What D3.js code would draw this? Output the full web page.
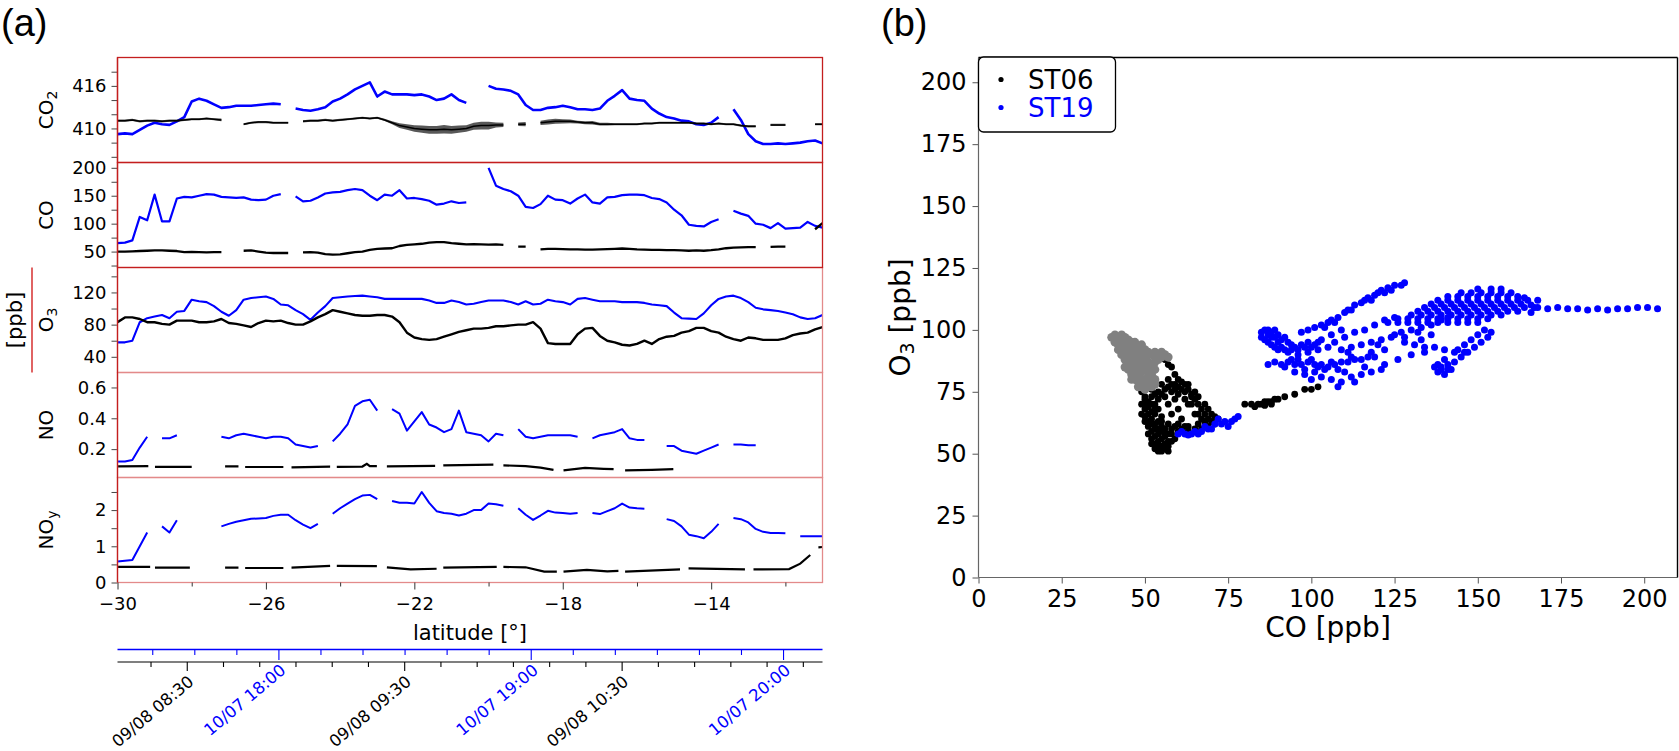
<!DOCTYPE html>
<html><head><meta charset="utf-8">
<script src="https://cdn.jsdelivr.net/npm/d3@7"></script>
<style>body{margin:0;background:#fff;} svg{display:block;}</style>
</head><body>
<svg id="chart" width="1679" height="751"></svg>
<script>
// ---------------- DATA ----------------
// latitude sampling grid: -30 .. -11 in 0.2 degree steps (96 samples)
const latStart = -30, latStep = 0.2, latDomain = [-30, -11];
const latMajorTicks = [-30, -26, -22, -18, -14];
const latMinorTicks = [-28, -24, -20, -16, -12];

const co2Blue = [409.2,409.3,409.2,409.8,410.4,410.8,410.6,410.5,411.0,411.6,
 413.8,414.2,413.9,413.4,412.9,413.0,413.2,413.2,413.2,413.3,
 413.4,413.5,413.4,null,412.8,412.6,412.5,412.7,413.0,413.8,
 414.2,414.8,415.5,416.0,416.5,414.5,415.2,414.8,414.8,414.8,
 414.7,414.8,414.5,414.0,414.2,414.8,414.0,413.6,null,null,
 416.0,415.6,415.5,415.3,414.8,413.3,412.6,412.6,412.9,413.0,
 413.2,413.0,412.7,412.7,412.6,412.8,413.9,414.6,415.4,414.2,
 414.0,413.9,412.8,412.1,411.6,411.4,411.1,411.0,410.6,410.5,
 410.8,411.6,null,412.7,411.2,409.2,408.2,407.8,407.8,407.9,
 407.8,407.9,408.0,408.2,408.3,407.9];
const co2Black = [411.1,411.1,411.2,411.0,411.1,411.1,411.0,411.1,411.1,411.2,
 411.3,411.3,411.4,411.3,411.2,null,null,410.6,410.8,410.9,
 410.9,410.8,410.8,410.8,null,411.0,411.1,411.1,411.2,411.1,
 411.2,411.3,411.4,411.5,411.4,411.5,411.2,410.8,410.4,410.2,
 410.0,409.9,409.8,409.8,409.9,409.8,409.9,410.0,410.3,410.4,
 410.4,410.5,410.5,null,410.6,410.6,null,410.8,410.9,411.0,
 411.0,411.0,410.9,410.8,410.8,410.6,410.6,410.6,410.6,410.6,
 410.6,410.7,410.7,410.8,410.8,410.8,410.8,410.8,410.7,410.7,
 410.6,410.7,410.6,410.6,410.4,410.3,410.3,null,410.5,410.5,
 410.5,null,410.5,null,410.6,410.6];
// half-width of the noisy black CO2 trace (ppm)
const co2BlackSpread = [0.15,0.15,0.15,0.15,0.15,0.15,0.15,0.15,0.15,0.15,
 0.15,0.15,0.15,0.15,0.2,0,0,0.15,0.15,0.15,
 0.15,0.15,0.15,0.15,0,0.15,0.15,0.15,0.15,0.15,
 0.15,0.15,0.15,0.15,0.15,0.15,0.15,0.2,0.35,0.4,
 0.45,0.5,0.55,0.55,0.6,0.55,0.5,0.45,0.5,0.55,
 0.55,0.35,0.3,0,0.25,0.3,0,0.3,0.35,0.35,
 0.3,0.25,0.2,0.2,0.25,0.2,0.2,0.15,0.15,0.15,
 0.15,0.15,0.15,0.15,0.15,0.15,0.15,0.15,0.15,0.15,
 0.15,0.15,0.15,0.15,0.15,0.15,0.15,0,0.15,0.15,
 0.15,0,0.15,0,0.15,0.15];
const coBlue = [65,66,70,112,106,152,104,104,145,148,
 147,150,153,152,148,147,146,147,143,142,
 143,150,153,null,149,140,141,147,154,156,
 157,160,162,160,150,142,152,150,160,145,
 146,144,141,134,136,140,137,138,null,null,
 200,168,162,158,150,130,128,135,150,143,
 142,136,145,152,138,136,147,148,151,152,
 152,151,146,144,138,125,115,98,96,95,
 103,108,null,123,118,114,100,98,92,101,
 91,92,93,103,96,93];
const coBlack = [50,50,50.5,51,51.5,52,52,51.5,51,49,
 49.5,49,48.5,49,49,null,null,51.5,52,50,
 48,47.5,47.5,47.5,null,48.5,49,48,45.5,44.5,
 45,47,49,50,53,55,55.5,56,60,62,
 63,64,66,67,67,65,64,63,63.5,63,
 62.5,63,62,null,59,59,null,54,55,55,
 54.5,54,54,53.5,53.5,54,54.5,55,55.5,55,
 54,53.5,53,53,52.5,52.5,52,51.5,52,51.5,
 52.5,54,56,57,57.5,58,58,null,58.5,59,
 59,null,68,null,90,101];
const o3Blue = [58,58,60,83,88,90,92,88,96,97,
 111,109,108,103,96,91,98,111,113,114,
 115,112,105,104,98,93,86,95,103,113,
 114,115,115.5,116,115,114,112,112,112,112,
 112,112,110,107,107,110,108,105,106,108,
 110,110,110,108,105,109,105,106,111,109,
 108,105,112,113,111,109,109,109,108,108,
 108,107,105,104,103,95,88,87.5,87,94,
 104,112,115,116,113,108,101,99,98,97,
 95,93,89,87,88,92];
const o3Black = [83,89,89,87,83,83,81,80,85,85,
 85,83,83,84,87,82,81,79,77,82,
 85,84,85,82,80,80,84,89,93,98,
 96,94,92,91,91,92,92,90,83,70,
 64,62,61,62,65,68,71,73,75,75,
 76,78,78,79,80,80,83,75,57,56,
 56,56,68,75,76,66,60,58,55,54,
 56,60,56,62,65,66,70,72,76,76,
 72,70,65,62,60,64,63,61,61,61,
 63,67,69,70,74,77];
const noBlue = [0.12,0.12,0.13,0.21,0.28,null,0.27,0.27,0.29,null,
 null,null,null,null,0.28,0.27,0.29,0.30,0.29,0.28,
 0.27,0.28,0.28,0.27,0.23,0.22,0.21,0.22,null,0.25,
 0.30,0.36,0.48,0.51,0.52,0.45,null,0.46,0.43,0.32,
 0.38,0.44,0.36,0.34,0.31,0.33,0.45,0.31,0.30,0.29,
 0.25,0.30,0.29,null,0.33,0.28,0.27,0.28,0.29,0.29,
 0.29,0.29,0.28,null,0.27,0.29,0.30,0.31,0.33,0.27,
 0.26,0.26,null,null,0.22,0.22,0.19,0.18,0.17,0.19,
 0.21,0.23,null,0.23,0.23,0.225,0.225,null,null,null,
 null,null,null,null,null,null];
const noyBlue = [0.58,0.60,0.62,1.00,1.38,null,1.55,1.38,1.72,null,
 null,null,null,null,1.55,1.62,1.68,1.72,1.76,1.77,
 1.78,1.84,1.87,1.87,1.72,1.60,1.50,1.62,null,1.90,
 2.05,2.18,2.30,2.40,2.42,2.30,null,2.25,2.20,2.20,
 2.18,2.50,2.20,1.97,1.92,1.90,1.85,1.90,2.00,2.00,
 2.18,2.16,2.12,null,2.05,1.87,1.73,1.85,1.98,1.93,
 1.92,1.90,1.92,null,1.92,1.89,1.97,2.05,2.18,2.07,
 2.05,2.04,null,null,1.75,1.70,1.55,1.32,1.28,1.22,
 1.40,1.62,null,1.78,1.75,1.66,1.48,1.40,1.37,1.37,
 1.36,null,1.28,1.28,1.28,1.28];
// ST06 NO and NOy were measured in short pieces: [latitude, value] per piece
const noBlackSegs = [
 [[-30.0,0.088],[-29.17,0.090]],
 [[-28.99,0.085],[-28.0,0.085]],
 [[-27.10,0.088],[-26.74,0.088]],
 [[-26.56,0.084],[-25.53,0.084]],
 [[-25.31,0.082],[-24.27,0.086]],
 [[-24.09,0.085],[-23.4,0.087],[-23.28,0.105],[-23.2,0.09],[-23.01,0.09]],
 [[-22.74,0.088],[-21.44,0.092]],
 [[-21.22,0.095],[-19.87,0.10]],
 [[-19.60,0.095],[-19.0,0.09],[-18.6,0.08],[-18.25,0.065]],
 [[-17.98,0.062],[-17.4,0.078],[-16.9,0.072],[-16.63,0.07]],
 [[-16.32,0.062],[-15.6,0.066],[-15.02,0.07]]
];
const noyBlackSegs = [
 [[-30.0,0.43],[-29.12,0.43]],
 [[-28.99,0.41],[-28.05,0.41]],
 [[-27.10,0.41],[-26.74,0.41]],
 [[-26.56,0.40],[-25.53,0.40]],
 [[-25.31,0.41],[-24.27,0.46]],
 [[-24.09,0.46],[-23.01,0.45]],
 [[-22.74,0.42],[-22.1,0.36],[-21.4,0.38]],
 [[-21.22,0.41],[-19.78,0.43]],
 [[-19.60,0.43],[-19.0,0.42],[-18.5,0.30],[-18.16,0.30]],
 [[-17.98,0.30],[-17.35,0.35],[-16.8,0.31],[-16.50,0.32]],
 [[-16.32,0.30],[-14.84,0.36]],
 [[-14.61,0.39],[-13.09,0.36]],
 [[-12.86,0.36],[-11.9,0.37],[-11.6,0.52],[-11.33,0.76]],
 [[-11.11,0.97],[-11.0,0.98]]
];

// time axes: flight date, labelled tick times and the latitude each sits at
const st06Date = "09/08", st06TickTimes = ["08:30","09:30","10:30"], st06TickLats = [-28.12,-22.26,-16.40];
const st19Date = "10/07", st19TickTimes = ["18:00","19:00","20:00"], st19TickLats = [-25.65,-18.85,-12.05];

// panel (b): O3 vs CO scatter, [CO, O3]
const scatterTicks = [0,25,50,75,100,125,150,175,200];
const grayPts = [[40,97],[41,98],[42,97],[43,96],[44,97],[45,96],[46,95],[41,95],[42,94],[43,93],[44,94],[45,93],[46,92],[47,93],[48,92],[49,91],[50,92],[51,91],[52,90],[53,91],[54,90],[55,89],[56,90],[57,89],[43,90],[44,88],[45,89],[46,87],[47,89],[48,88],[49,87],[50,89],[51,87],[52,86],[53,87],[44,85],[45,84],[46,85],[47,83],[48,84],[49,83],[50,85],[51,83],[52,82],[47,80],[48,79],[49,80],[50,78],[51,79],[52,77],[53,78],[50,76],[49,77],[42,96],[43,98],[45,91],[47,91],[48,86],[46,82],[53,84],[54,88],[51,81],[53,80],
[44,91],[46,90],[48,90],[50,87],[45,86],[47,86],[49,85],[51,85],[46,80],[48,81],[50,80],[52,79],[48,77],[51,77],[44,95],[47,95],[42,92],[49,94],[53,89],[55,91]];
const blackPts = [[49,75],[50,73],[51,71],[49,70],[50,68],[51,66],[52,64],[50,63],[51,61],[52,59],[53,57],[54,55],[55,53],[56,52],[53,54],[52,56],[54,58],[55,56],[57,55],[56,57],[53,62],[52,67],[53,70],[50,65],[51,58],
[52,76],[54,75],[56,76],[58,75],[60,74],[62,75],[64,73],[55,78],[57,80],[59,82],[58,85],[56,88],[57,86],[59,78],
[60,80],[62,78],[63,76],[64,74],[65,72],[66,70],[67,68],[68,66],[69,64],[70,63],[66,66],[67,64],[64,70],[62,72],[70,66],
[55,61],[57,62],[59,61],[61,60],[63,61],[65,60],[67,60],[69,61],[58,60],[60,62],[62,61],
[58,66],[60,68],[57,70],[61,64],[59,72],[53,52],[55,51],[57,53],[58,55],[56,54],[54,53],
[50,72],[52,73],[54,72],[56,73],[51,69],[53,66],[54,63],[55,59],[53,60],[52,62],[58,58],[56,60],[72,64],[71,62],[54,68],[55,65],[58,78],[60,77],[61,79],[63,78],
[50,70],[52,70],[51,63],[49,66],[53,68],[54,60],[56,58],[57,58],[55,63],[52,54],[54,51],[57,51],[59,56],[60,59],[63,59],[66,62],[68,63],[65,66],[63,70],[61,76],[59,76],[57,77],[55,74],[53,74],[65,75],[66,73],[68,70],[69,68],[71,65],
[80,70],[82,70],[84,70],[85,70],[86,71],[87,71],[88,71],[89,72],[90,72],[92,73],[95,74],[98,76],[100,76],[102,77],[83,69],[86,69.5],[88,70]];
const bluePts = [[60,58],[62,58],[64,58],[65,59],[67,59],[69,60],[70,60],[68,61],[71,62],[73,62],[74,63],[76,63],[77,64],[78,65],[72,64],[75,61],[63,57.5],[66,58],[61,59],
[85,99],[86,100],[87,98],[88,99],[89,97],[90,98],[91,96],[92,97],[93,95],[94,94],[95,93],[86,96],[87,95],[88,94],[89,93],[90,92],[91,93],[92,92],[93,91],[94,92],[96,92],[88,97],[90,95],[85,97],[87,100],[89,100],
[97,94],[99,95],[101,94],[100,93],[98,93],[102,95],
[97,99],[99,100],[101,101],[103,102],[105,103],[106,104],[108,105],[110,107],[111,108],[113,110],[115,111],[117,113],[119,114],[121,116],[123,117],[125,118],[127,118],[128,119],[104,101],[107,103],[112,108],[116,112],[120,115],[124,116],[118,112],[122,115],
[87,86],[89,87],[91,86],[93,87],[95,86],[97,86],[99,87],[101,86],[103,86],[105,85],[107,86],[109,87],[111,87],[113,88],[115,88],[117,89],[94,88],[100,88],[104,84],[98,84],[102,85],[106,87],[92,85],[96,88],[108,84],[119,89],
[100,80],[103,81],[106,80],[109,79],[112,81],[115,82],[118,83],[121,84],[108,77],[113,79],
[109,92],[112,93],[115,94],[118,95],[121,96],[124,97],[127,99],[130,100],[133,101],[136,102],[139,104],[141,105],[111,91],[120,94],[128,97],[125,98],[132,99],
[128,95],[131,94],[134,93],[137,93],[140,92],[143,91],[146,91],
[96,90],[99,91],[102,92],[105,93],[107,95],[110,97],[113,99],[116,100],[119,102],[122,104],[125,105],[103,96],[106,98],[109,100],[95,83],[98,82],[101,83],[110,83],[116,85],[122,86],[126,88],[130,90],[134,91],[118,91],[122,92],[112,89],[133,96],[136,98],
[138,83],[140,82],[142,84],[139,85],[141,86],[143,87],[140,88],[138,86],[145,89],[147,91],[149,93],[151,95],[150,98],[152,100],[148,96],[146,94],[144,92],[153,97],[154,99],[139,84],[141,84],[137,85],
[123,103],[126,103],[129,103],[132,103],[135,103],[138,103],[141,103],[144,103],[147,103],[150,103],
[126,104.5],[129,104.5],[132,104.5],[135,104.5],[138,104.5],[141,104.5],[144,104.5],[147,104.5],[150,104.5],[153,104.5],
[130,106],[133,106],[136,106],[139,106],[142,106],[145,106],[148,106],[151,106],[154,106],[157,106],
[132,107.5],[135,107.5],[138,107.5],[141,107.5],[144,107.5],[147,107.5],[150,107.5],[153,107.5],[156,107.5],[159,107.5],[162,107.5],
[134,109],[137,109],[140,109],[143,109],[146,109],[149,109],[152,109],[155,109],[158,109],[161,109],[164,109],[167,109],
[136,110.5],[139,110.5],[142,110.5],[145,110.5],[148,110.5],[151,110.5],[154,110.5],[157,110.5],[160,110.5],[163,110.5],
[138,112],[141,112],[144,112],[147,112],[150,112],[153,112],[156,112],[159,112],[162,112],[165,112],
[141,113.5],[144,113.5],[147,113.5],[150,113.5],[153,113.5],[156,113.5],[159,113.5],[162,113.5],
[145,115],[148,115],[151,115],[154,115],[157,115],[160,115],[150,116.5],[154,116.5],[157,116.5],
[168,109],[171,108.5],[174,109],[177,108.5],[180,108.5],[183,108],[186,108.5],[189,108],[192,108.5],[195,108.5],[198,109],[201,109],[204,108.5],[166,107],[164,113],[168,112],[166,110]];

// ---------------- DRAWING ----------------
const BLUE = "#0000ff";
const FONT = "DejaVu Sans, sans-serif";
const svg = d3.select("#chart");
svg.append("rect").attr("width",1679).attr("height",751).attr("fill","#fff");

svg.append("text").attr("x",1).attr("y",36).attr("font-family","Liberation Sans, Arial, sans-serif").attr("font-size",38).text("(a)");
svg.append("text").attr("x",881).attr("y",36).attr("font-family","Liberation Sans, Arial, sans-serif").attr("font-size",38).text("(b)");

// ---- panel (a)
const A = {left:117.5, right:822.5, top:57.5, h:105};
const xLat = d3.scaleLinear().domain(latDomain).range([A.left, A.right]);
const lat = co2Blue.map((_, i) => latStart + latStep * i);

const panels = [
 {label:["CO","2"], domain:[405.2,420], ticks:[406,408,410,412,414,416,418], labelTicks:[410,416], fmt:d3.format("d"), blue:co2Blue, black:co2Black, spread:co2BlackSpread, frame:"#c41e1e", bw:1.5, blw:2.6},
 {label:["CO",""], domain:[21.5,209.5], ticks:[25,50,75,100,125,150,175,200], labelTicks:[50,100,150,200], fmt:d3.format("d"), blue:coBlue, black:coBlack, frame:"#c41e1e", bw:2.3, blw:2.2},
 {label:["O","3"], domain:[20.5,151], ticks:[40,60,80,100,120,140], labelTicks:[40,80,120], fmt:d3.format("d"), blue:o3Blue, black:o3Black, frame:"#e38a8a", bw:2.4, blw:2.1},
 {label:["NO",""], domain:[0.016,0.697], ticks:[0.2,0.4,0.6], labelTicks:[0.2,0.4,0.6], fmt:d3.format(".1f"), blue:noBlue, blackSegs:noBlackSegs, frame:"#e38a8a", bw:2.2, blw:2.0},
 {label:["NO","y"], domain:[0,2.9], ticks:[0,0.5,1,1.5,2,2.5], labelTicks:[0,1,2], fmt:d3.format("d"), blue:noyBlue, blackSegs:noyBlackSegs, frame:"#e38a8a", bw:2.2, blw:2.0}
];

const frames = [];
panels.forEach((p, k) => {
  const y0 = A.top + k*A.h, y1 = y0 + A.h;
  const y = d3.scaleLinear().domain(p.domain).range([y1, y0]);
  const cid = "clipA" + k;
  svg.append("clipPath").attr("id", cid).append("rect")
    .attr("x", A.left).attr("y", y0).attr("width", A.right - A.left).attr("height", A.h);
  const g = svg.append("g").attr("clip-path", `url(#${cid})`);
  const line = d3.line().defined(d => d[1] != null).x(d => xLat(d[0])).y(d => y(d[1]));
  g.append("path").datum(lat.map((l, i) => [l, p.blue[i]])).attr("d", line)
    .attr("fill","none").attr("stroke",BLUE).attr("stroke-width", p.blw).attr("stroke-linejoin","round");
  if (p.spread) {
    const area = d3.area().defined((d,i) => p.black[i] != null)
      .x((d,i) => xLat(lat[i])).y0((d,i) => y(p.black[i] - p.spread[i])).y1((d,i) => y(p.black[i] + p.spread[i]));
    g.append("path").datum(p.black).attr("d", area).attr("fill","#111").attr("opacity",0.7);
  }
  if (p.black) {
    g.append("path").datum(lat.map((l, i) => [l, p.black[i]])).attr("d", line)
      .attr("fill","none").attr("stroke","#000").attr("stroke-width", p.bw).attr("stroke-linejoin","round");
  }
  if (p.blackSegs) {
    const sl = d3.line().x(d => xLat(d[0])).y(d => y(d[1]));
    p.blackSegs.forEach(seg => g.append("path").datum(seg).attr("d", sl)
      .attr("fill","none").attr("stroke","#000").attr("stroke-width", p.bw));
  }
  // y axis
  const ax = svg.append("g").attr("transform", `translate(${A.left},0)`)
    .call(d3.axisLeft(y).tickValues(p.ticks).tickSize(6).tickPadding(5)
      .tickFormat(d => p.labelTicks.includes(d) ? p.fmt(d) : ""));
  ax.select(".domain").remove();
  ax.attr("font-size", 18).attr("font-family", FONT);
  ax.selectAll("line").attr("stroke","#444");
  ax.selectAll("text").attr("fill","#000");
  // y label
  const t = svg.append("text").attr("transform", `translate(46,${(y0+y1)/2}) rotate(-90)`)
    .attr("text-anchor","middle").attr("dominant-baseline","central")
    .attr("font-family", FONT).attr("font-size", 20);
  t.append("tspan").text(p.label[0]);
  if (p.label[1]) t.append("tspan").attr("font-size", 14).attr("dy", 6).text(p.label[1]);
  frames.push({y0, color:p.frame});
});
// frames: light ones first, dark on top
frames.slice().reverse().forEach(f => {
  svg.append("rect").attr("x", A.left).attr("y", f.y0).attr("width", A.right - A.left).attr("height", A.h)
    .attr("fill","none").attr("stroke", f.color).attr("stroke-width", 1.3);
});
svg.append("line").attr("x1", A.left).attr("x2", A.left).attr("y1", A.top).attr("y2", A.top + 5*A.h)
  .attr("stroke","#c41e1e").attr("stroke-width",1.3);

// [ppb] common label with red bar
svg.append("text").attr("transform", `translate(15,${A.top + 2.5*A.h}) rotate(-90)`)
  .attr("text-anchor","middle").attr("dominant-baseline","central")
  .attr("font-family", FONT).attr("font-size", 21).text("[ppb]");
svg.append("line").attr("x1",32).attr("x2",32).attr("y1",A.top+2*A.h).attr("y2",A.top+3*A.h)
  .attr("stroke","#d01010").attr("stroke-width",1.3);

// latitude axis
const yBottomA = A.top + 5*A.h;
const xMaj = svg.append("g").attr("transform", `translate(0,${yBottomA})`)
  .call(d3.axisBottom(xLat).tickValues(latMajorTicks).tickSize(7).tickPadding(8).tickFormat(d3.format("d")));
xMaj.select(".domain").remove();
xMaj.attr("font-size", 18).attr("font-family", FONT);
xMaj.selectAll("line").attr("stroke","#333");
xMaj.selectAll("text").attr("fill","#000");
const xMin = svg.append("g").attr("transform", `translate(0,${yBottomA})`)
  .call(d3.axisBottom(xLat).tickValues(latMinorTicks).tickSize(4).tickFormat(""));
xMin.select(".domain").remove();
xMin.selectAll("line").attr("stroke","#333");
svg.append("text").attr("x", (A.left + A.right)/2).attr("y", 640).attr("text-anchor","middle")
  .attr("font-family", FONT).attr("font-size", 21).text("latitude [°]");

// time axes
const parseT = d3.utcParse("%m/%d %H:%M");
const fmtT = d3.utcFormat("%m/%d %H:%M");
function timeAxis(date, times, lats, yLine, lineColor, tickColor, textColor, minorLen, majorLen, labelDx, labelY) {
  const t0 = parseT(date + " " + times[0]), t1 = parseT(date + " " + times[times.length-1]);
  const ts = d3.scaleUtc().domain([t0, t1]).range([xLat(lats[0]), xLat(lats[lats.length-1])]);
  svg.append("line").attr("x1", A.left).attr("x2", A.right).attr("y1", yLine).attr("y2", yLine)
    .attr("stroke", lineColor).attr("stroke-width", 1.3);
  const majors = times.map(s => +parseT(date + " " + s));
  const all = d3.utcMinute.every(10).range(ts.invert(A.left), ts.invert(A.right));
  all.forEach(d => {
    const x = ts(d), isMaj = majors.includes(+d);
    svg.append("line").attr("x1", x).attr("x2", x).attr("y1", yLine).attr("y2", yLine + (isMaj ? majorLen : minorLen))
      .attr("stroke", tickColor).attr("stroke-width", 1.1);
  });
  majors.forEach(m => {
    const x = ts(new Date(m));
    svg.append("text").attr("transform", `translate(${x + labelDx},${labelY}) rotate(-40)`)
      .attr("text-anchor","end").attr("font-family", FONT).attr("font-size", 16.5)
      .attr("fill", textColor).text(fmtT(new Date(m)));
  });
}
timeAxis(st19Date, st19TickTimes, st19TickLats, 649.5, BLUE, BLUE, BLUE, 5.5, 10.5, 8, 672);
timeAxis(st06Date, st06TickTimes, st06TickLats, 662, "#555", "#000", "#000", 5, 9, 7.5, 683.5);

// ---- panel (b)
const B = {left:978.5, right:1677.5, top:57.5, bottom:577.5};
const xB = d3.scaleLinear().domain([0,210]).range([B.left, B.right]);
const yB = d3.scaleLinear().domain([0,210]).range([B.bottom, B.top]);
const gs = svg.append("g");
gs.selectAll("circle.k").data(blackPts).join("circle").attr("class","k")
  .attr("cx", d => xB(d[0])).attr("cy", d => yB(d[1])).attr("r", 3.4).attr("fill","#000");
gs.selectAll("circle.g").data(grayPts).join("circle").attr("class","g")
  .attr("cx", d => xB(d[0])).attr("cy", d => yB(d[1])).attr("r", 4.4).attr("fill","#808080");
gs.selectAll("circle.b").data(bluePts).join("circle").attr("class","b")
  .attr("cx", d => xB(d[0])).attr("cy", d => yB(d[1])).attr("r", 3.5).attr("fill",BLUE);

const bx = svg.append("g").attr("transform", `translate(0,${B.bottom})`)
  .call(d3.axisBottom(xB).tickValues(scatterTicks).tickSize(6).tickPadding(6).tickFormat(d3.format("d")));
bx.select(".domain").remove();
bx.attr("font-size", 24).attr("font-family", FONT);
bx.selectAll("line").attr("stroke","#555");
bx.selectAll("text").attr("fill","#000");
const by = svg.append("g").attr("transform", `translate(${B.left},0)`)
  .call(d3.axisLeft(yB).tickValues(scatterTicks).tickSize(6).tickPadding(6).tickFormat(d3.format("d")));
by.select(".domain").remove();
by.attr("font-size", 24).attr("font-family", FONT);
by.selectAll("line").attr("stroke","#555");
by.selectAll("text").attr("fill","#000");
// spines
svg.append("line").attr("x1",B.left).attr("x2",B.left).attr("y1",B.top).attr("y2",B.bottom).attr("stroke","#666").attr("stroke-width",1.2);
svg.append("line").attr("x1",B.left).attr("x2",B.right).attr("y1",B.bottom).attr("y2",B.bottom).attr("stroke","#666").attr("stroke-width",1.2);
svg.append("line").attr("x1",B.left).attr("x2",B.right).attr("y1",B.top).attr("y2",B.top).attr("stroke","#000").attr("stroke-width",1.4);
svg.append("line").attr("x1",B.right).attr("x2",B.right).attr("y1",B.top).attr("y2",B.bottom).attr("stroke","#000").attr("stroke-width",1.4);

svg.append("text").attr("x", (B.left + B.right)/2).attr("y", 637).attr("text-anchor","middle")
  .attr("font-family", FONT).attr("font-size", 28).text("CO [ppb]");
const yl = svg.append("text").attr("transform", `translate(900,${(B.top + B.bottom)/2}) rotate(-90)`)
  .attr("text-anchor","middle").attr("dominant-baseline","central").attr("font-family", FONT).attr("font-size", 28);
yl.append("tspan").text("O");
yl.append("tspan").attr("font-size", 19).attr("dy", 7).text("3");
yl.append("tspan").attr("dy", -7).text(" [ppb]");

// legend
const lg = svg.append("g");
lg.append("rect").attr("x", B.left).attr("y", B.top - 0.5).attr("width", 137).attr("height", 75).attr("rx", 5)
  .attr("fill","#fff").attr("stroke","#000").attr("stroke-width",1.3);
[["ST06","#000"],["ST19",BLUE]].forEach((e, i) => {
  const cy = 79.5 + i*28;
  lg.append("circle").attr("cx", 1001).attr("cy", cy).attr("r", 2.6).attr("fill", e[1]);
  lg.append("text").attr("x", 1028).attr("y", cy).attr("dominant-baseline","central")
    .attr("font-family", FONT).attr("font-size", 26).attr("fill", e[1]).text(e[0]);
});
</script>
</body></html>
